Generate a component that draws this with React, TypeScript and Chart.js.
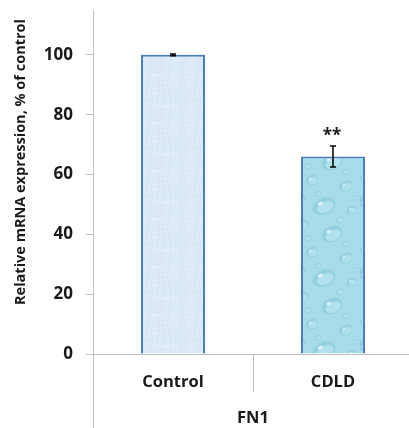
import React, { useEffect, useRef } from 'react';
import { Chart, registerables } from 'chart.js';

Chart.register(...registerables);

// ---- data ----
const categories = ['Control', 'CDLD'];
const values = [100, 66];
const errors = [0.3, 3.5];
const significance = ['', '**'];
const groupLabel = 'FN1';
const yAxisTitle = 'Relative mRNA expression, % of control';
const yMin = 0;
const yMax = 115;
const yStep = 20;

const FONT = "'Open Sans', 'Liberation Sans', sans-serif";
const AXIS_COLOR = '#bfbfbf';
const TEXT_COLOR = '#1a1a1a';

function paperPattern(ctx: CanvasRenderingContext2D) {
  const c = document.createElement('canvas');
  c.width = 48; c.height = 48;
  const g = c.getContext('2d')!;
  g.fillStyle = '#dce9f6';
  g.fillRect(0, 0, 48, 48);
  g.lineWidth = 0.6;
  g.strokeStyle = 'rgba(255,255,255,0.35)';
  for (let i = 0; i < 10; i++) {
    g.beginPath();
    const y0 = i * 4.8 + 1;
    g.moveTo(0, y0);
    g.bezierCurveTo(14, y0 + 6 * Math.sin(i * 1.7), 30, y0 - 6 * Math.cos(i * 2.3), 48, y0);
    g.stroke();
  }
  g.strokeStyle = 'rgba(180,205,232,0.3)';
  for (let i = 0; i < 8; i++) {
    g.beginPath();
    const x0 = i * 6 + 2;
    g.moveTo(x0, 0);
    g.bezierCurveTo(x0 + 7 * Math.cos(i * 1.3), 16, x0 - 7 * Math.sin(i * 2.1), 32, x0, 48);
    g.stroke();
  }
  return ctx.createPattern(c, 'repeat')!;
}

const DROPS: [number, number, number, number][] = [
  [12, 10, 9, 6], [44, 18, 11, 8], [24, 36, 6, 5], [58, 42, 7, 5], [8, 56, 10, 7],
  [36, 62, 12, 8], [64, 66, 5, 4], [52, 4, 4, 3], [20, 22, 3, 3], [4, 34, 4, 3],
  [58, 28, 3, 3], [30, 50, 3, 3], [66, 54, 3, 2],
];

function dropPattern(ctx: CanvasRenderingContext2D) {
  const c = document.createElement('canvas');
  c.width = 72; c.height = 72;
  const g = c.getContext('2d')!;
  g.fillStyle = '#a8dce9';
  g.fillRect(0, 0, 72, 72);
  for (const [x, y, rx, ry] of DROPS) {
    g.beginPath();
    g.ellipse(x, y, rx, ry, -0.4, 0, Math.PI * 2);
    g.fillStyle = 'rgba(125,192,212,0.45)';
    g.fill();
    g.beginPath();
    g.ellipse(x + rx * 0.12, y + ry * 0.15, rx * 0.75, ry * 0.65, -0.4, 0, Math.PI * 2);
    g.fillStyle = 'rgba(190,232,242,0.7)';
    g.fill();
    g.beginPath();
    g.ellipse(x - rx * 0.3, y - ry * 0.3, rx * 0.22, ry * 0.18, -0.4, 0, Math.PI * 2);
    g.fillStyle = 'rgba(240,252,255,0.75)';
    g.fill();
  }
  return ctx.createPattern(c, 'repeat')!;
}

const extrasPlugin = {
  id: 'extras',
  afterDraw(chart: any) {
    const { ctx, chartArea, scales } = chart;
    const x = scales.x;
    const y = scales.y;
    ctx.save();
    // y-axis line extended through the category area
    ctx.strokeStyle = AXIS_COLOR;
    ctx.lineWidth = 1;
    ctx.beginPath();
    ctx.moveTo(chartArea.left + 0.5, chartArea.bottom);
    ctx.lineTo(chartArea.left + 0.5, chart.height);
    ctx.stroke();
    // category separators
    for (let i = 0; i < categories.length - 1; i++) {
      const px = Math.round((x.getPixelForValue(i) + x.getPixelForValue(i + 1)) / 2) + 0.5;
      ctx.beginPath();
      ctx.moveTo(px, chartArea.bottom);
      ctx.lineTo(px, chartArea.bottom + 38);
      ctx.stroke();
    }
    // error bars
    ctx.strokeStyle = '#000';
    ctx.lineWidth = 1.5;
    values.forEach((v, i) => {
      const cx = x.getPixelForValue(i);
      const top = y.getPixelForValue(v + errors[i]);
      const bot = y.getPixelForValue(v - errors[i]);
      ctx.beginPath();
      ctx.moveTo(cx, top); ctx.lineTo(cx, bot);
      ctx.moveTo(cx - 3, top); ctx.lineTo(cx + 3, top);
      ctx.moveTo(cx - 3, bot); ctx.lineTo(cx + 3, bot);
      ctx.stroke();
      if (significance[i]) {
        ctx.fillStyle = TEXT_COLOR;
        ctx.font = `bold 17px ${FONT}`;
        ctx.textAlign = 'center';
        ctx.textBaseline = 'middle';
        ctx.fillText(significance[i], cx - 1, top - 10);
      }
    });
    // y-axis title
    ctx.fillStyle = TEXT_COLOR;
    ctx.font = `bold 14.5px ${FONT}`;
    ctx.textAlign = 'center';
    ctx.textBaseline = 'middle';
    ctx.translate(21, 162);
    ctx.rotate(-Math.PI / 2);
    ctx.fillText(yAxisTitle, 0, 0);
    ctx.restore();
  },
};

export default function App() {
  const ref = useRef<HTMLCanvasElement>(null);
  useEffect(() => {
    const canvas = ref.current!;
    const ctx = canvas.getContext('2d')!;
    const chart = new Chart(canvas, {
      type: 'bar',
      data: {
        labels: categories,
        datasets: [
          {
            data: values,
            backgroundColor: [paperPattern(ctx), dropPattern(ctx)],
            borderColor: '#4a7ebb',
            borderWidth: 2,
            barPercentage: 0.4,
            categoryPercentage: 1,
          },
        ],
      },
      options: {
        animation: false,
        responsive: false,
        maintainAspectRatio: false,
        layout: { padding: { top: 10, left: 0, right: 0, bottom: 0 } },
        plugins: { legend: { display: false }, tooltip: { enabled: false } },
        scales: {
          x: {
            afterFit: (s: any) => { s.height = 74; },
            grid: { display: false },
            border: { display: true, color: AXIS_COLOR },
            ticks: { color: TEXT_COLOR, font: { family: FONT, size: 16.5, weight: 'bold' }, padding: 10 },
            title: {
              display: true,
              text: groupLabel,
              color: TEXT_COLOR,
              font: { family: FONT, size: 16.5, weight: 'bold' },
              padding: { top: 0, bottom: 0 },
            },
          },
          y: {
            min: yMin,
            max: yMax,
            afterFit: (s: any) => { s.width = 93; s.paddingTop = 0; s.paddingBottom = 0; },
            afterBuildTicks: (s: any) => { s.ticks = s.ticks.filter((t: any) => t.value % yStep === 0); },
            grid: { drawOnChartArea: false, tickLength: 7, color: AXIS_COLOR },
            border: { display: true, color: AXIS_COLOR },
            ticks: { stepSize: yStep, color: TEXT_COLOR, font: { family: FONT, size: 17, weight: 'bold' }, padding: 13 },
          },
        },
      },
      plugins: [extrasPlugin],
    });
    return () => chart.destroy();
  }, []);
  return (
    <div style={{ position: 'fixed', left: 0, top: 0, width: 409, height: 428, overflow: 'hidden', background: '#fff' }}>
      <canvas ref={ref} width={413} height={428} style={{ display: 'block', width: 413, height: 428 }} />
    </div>
  );
}
